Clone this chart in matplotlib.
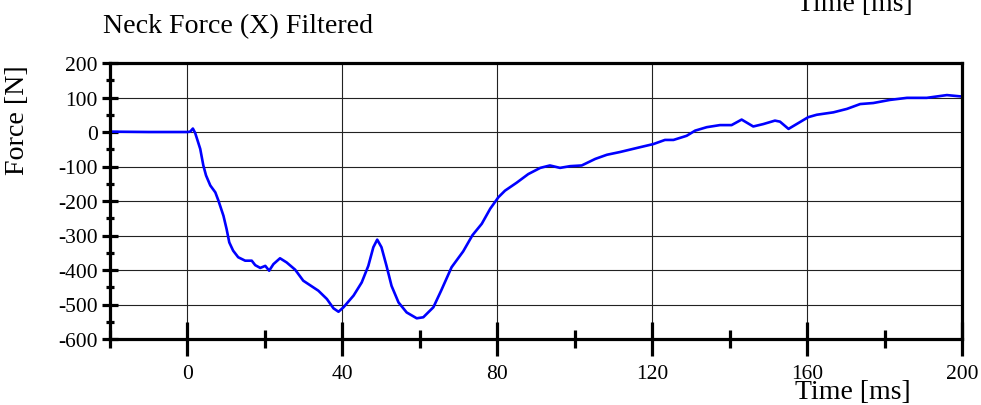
import matplotlib
matplotlib.use("Agg")
import matplotlib.pyplot as plt
from matplotlib.ticker import FixedLocator, FixedFormatter

plt.rcParams['font.family'] = ['Liberation Serif', 'DejaVu Serif']
plt.rcParams['axes.unicode_minus'] = False

time_ms = [-20, -10, 0, 0.7, 1.4, 2.0, 3.3, 4.1, 4.8, 5.9, 7.2, 8.0, 9.3, 10.1, 10.8,
           11.8, 13.1, 14.9, 16.6, 17.5, 18.8, 20.1, 21.1, 22.2, 23.9, 25.6, 27.8,
           29.9, 33.8, 36.0, 37.7, 39.0, 40.3, 42.9, 45.0, 46.7, 48.0, 49.0, 50.1,
           51.4, 52.7, 54.5, 56.6, 59.2, 60.9, 63.5, 65.5, 68.2, 71.2, 73.6, 76.0,
           78.2, 80.3, 82.0, 85.0, 88.0, 91.1, 93.6, 96.2, 98.8, 101.8, 105.3, 108.3,
           111.7, 116.9, 120.3, 123.3, 125.5, 128.9, 131.1, 134.1, 137.5, 140.5,
           143.1, 146.1, 148.7, 151.7, 153.0, 155.2, 157.3, 160.3, 162.5, 166.8,
           170.3, 173.7, 177.1, 181.4, 185.8, 190.9, 196.1, 199.8]
force_n = [1, 0, 0, 1, 10, -3, -49, -97, -126, -155, -175, -199, -243, -281, -320,
           -344, -363, -373, -373, -386, -394, -388, -402, -383, -366, -378, -399,
           -431, -460, -484, -511, -521, -508, -474, -436, -388, -334, -312, -334,
           -388, -446, -494, -523, -540, -537, -508, -460, -392, -346, -299, -266,
           -222, -189, -170, -147, -122, -104, -97, -104, -99, -97, -78, -66,
           -58, -44, -35, -23, -23, -11, 4, 14, 20, 20,
           36, 16, 23, 33, 30, 9, 23, 43, 50, 57,
           67, 81, 84, 93, 99, 99, 107, 103]

x_major = [0, 40, 80, 120, 160, 200]
x_major_labels = ['0', '40', '80', '120', '160', '200']
x_minor = [-20, 20, 60, 100, 140, 180]
y_major = [-600, -500, -400, -300, -200, -100, 0, 100, 200]
y_major_labels = ['-600', '-500', '-400', '-300', '-200', '-100', '0', '100', '200']
y_minor = [-550, -450, -350, -250, -150, -50, 50, 150]

title_text = 'Neck Force (X) Filtered'
xlabel_text = 'Time [ms]'
ylabel_text = 'Force [N]'

fig = plt.figure(figsize=(9.81, 4.06), dpi=100)
ax = fig.add_axes([110/981, 1-340/406, (962-110)/981, (340-64)/406])

ax.plot(time_ms, force_n, color='#0000ff', lw=1.9, zorder=3, clip_on=True,
        solid_joinstyle='round')

ax.set_xlim(-20, 200)
ax.set_ylim(-600, 200)

ax.xaxis.set_major_locator(FixedLocator(x_major))
ax.xaxis.set_major_formatter(FixedFormatter(x_major_labels))
ax.xaxis.set_minor_locator(FixedLocator(x_minor))
ax.yaxis.set_major_locator(FixedLocator(y_major))
ax.yaxis.set_major_formatter(FixedFormatter(y_major_labels))
ax.yaxis.set_minor_locator(FixedLocator(y_minor))

ax.grid(True, which='major', color='#222222', lw=0.8, zorder=1)

ax.tick_params(axis='x', which='major', direction='inout', length=25, width=2.3,
               labelsize=15.5, pad=5.5)
ax.tick_params(axis='x', which='minor', direction='inout', length=12.5, width=2.3)
ax.tick_params(axis='y', which='major', direction='inout', length=11.5, width=2.3,
               labelsize=15.5, pad=3)
ax.tick_params(axis='y', which='minor', direction='inout', length=5.8, width=2.3)

for s in ax.spines.values():
    s.set_linewidth(2.3)
    s.set_zorder(4)

fig.text(103/981, 1-33/406, title_text, fontsize=20.2, ha='left', va='baseline')
fig.text(853/981, 1-399/406, xlabel_text, fontsize=20, ha='center', va='baseline')
fig.text(855/981, 1-11/406, xlabel_text, fontsize=20, ha='center', va='baseline')
fig.text(18/981, 1-120/406, ylabel_text, fontsize=20.2, ha='center', va='center',
         rotation=90)

fig.savefig('out.png', dpi=100)
